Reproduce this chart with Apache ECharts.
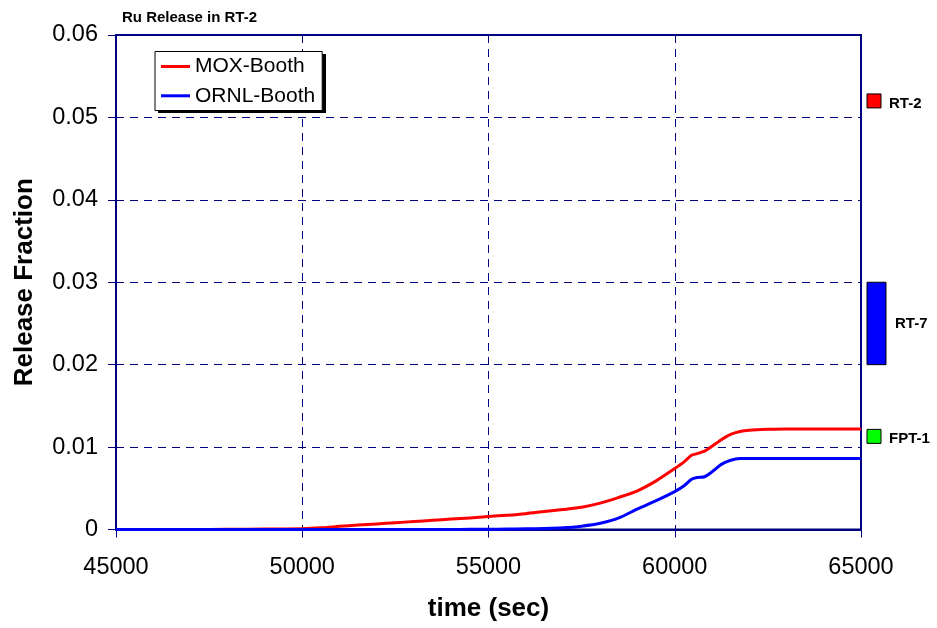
<!DOCTYPE html>
<html>
<head>
<meta charset="utf-8">
<script src="https://cdn.jsdelivr.net/npm/echarts@6/dist/echarts.min.js"></script>
<style>
  html, body { margin: 0; padding: 0; background: #fff; }
  #chart { width: 937px; height: 628px; }
</style>
</head>
<body>
<div id="chart"></div>
<script>
// Ru release fraction vs time for the two release models
const timeSec = [45000, 46000, 47000, 48000, 49000, 50000, 50500, 51000, 51500, 52000,
  52500, 53000, 53500, 54000, 54500, 55000, 55500, 56000, 56500, 57000,
  57500, 58000, 58500, 59000, 59500, 60000, 60250, 60450, 60600, 60800,
  61000, 61250, 61500, 61750, 62000, 62500, 63000, 64000, 65000];

const moxBooth = [0, 0, 0.00001, 0.00002, 0.00005, 0.0001, 0.0002, 0.00038, 0.00055, 0.00068,
  0.00082, 0.00097, 0.00112, 0.00127, 0.0014, 0.00158, 0.00173, 0.00192, 0.00218, 0.00242,
  0.0027, 0.0032, 0.0039, 0.0047, 0.0059, 0.0074, 0.0082, 0.009, 0.0092, 0.0095,
  0.0101, 0.0109, 0.01155, 0.0119, 0.01205, 0.01215, 0.0122, 0.0122, 0.0122];

const ornlBooth = [0, 0, 0, 0, 0, 0, 0, 0, 0, 0,
  0, 0, 0.00001, 0.00001, 0.00002, 0.00003, 0.00005, 0.00008, 0.00012, 0.0002,
  0.0004, 0.00075, 0.0014, 0.0025, 0.0035, 0.0046, 0.0053, 0.0061, 0.0063, 0.0064,
  0.007, 0.0079, 0.0084, 0.0086, 0.0086, 0.0086, 0.0086, 0.0086, 0.0086];

// Measured release fractions from other tests: name, low, high
const testNames = ['RT-2', 'RT-7', 'FPT-1'];
const testLow = [0.052, 0.02, 0.0113];
const testHigh = [0.052, 0.03, 0.0113];
const testColors = ['#ff0000', '#0000ff', '#00ff00'];

const xTicks = { min: 45000, max: 65000, step: 5000 };
const yTicks = { min: 0, max: 0.06, step: 0.01 };

const FONT = '"Liberation Sans", Arial, sans-serif';
const NAVY = '#000080';

const chart = echarts.init(document.getElementById('chart'), null, { renderer: 'canvas' });

const pair = (xs, ys) => xs.map((x, i) => [x, ys[i]]);

const testData = testNames.map((n, i) => [xTicks.max, testLow[i], testHigh[i], n, testColors[i]]);

chart.setOption({
  animation: false,
  backgroundColor: '#ffffff',
  title: {
    text: 'Ru Release in RT-2',
    left: 117,
    top: 5,
    textStyle: { fontFamily: FONT, fontSize: 15, fontWeight: 'bold', color: '#000' }
  },
  // drop shadow behind the legend box
  graphic: [
    {
      type: 'rect',
      left: 158,
      top: 54,
      shape: { width: 168, height: 59 },
      style: { fill: '#000000' },
      z: 3
    }
  ],
  legend: {
    orient: 'vertical',
    left: 155,
    top: 51.5,
    data: ['MOX-Booth', 'ORNL-Booth'],
    icon: 'rect',
    itemWidth: 29,
    itemHeight: 3,
    itemGap: 8.3,
    padding: [4.5, 7, 4.2, 6],
    backgroundColor: '#ffffff',
    borderColor: '#000000',
    borderWidth: 1,
    borderRadius: 0,
    z: 10,
    textStyle: { fontFamily: FONT, fontSize: 21, color: '#000', padding: [0, 0, 0, 0] }
  },
  grid: {
    left: 116,
    right: 76,
    top: 35,
    bottom: 98.5,
    show: true,
    borderColor: NAVY,
    borderWidth: 2,
    containLabel: false
  },
  xAxis: {
    type: 'value',
    min: xTicks.min,
    max: xTicks.max,
    interval: xTicks.step,
    name: 'time (sec)',
    nameLocation: 'middle',
    nameGap: 66,
    nameTextStyle: { fontFamily: FONT, fontSize: 26, fontWeight: 'bold', color: '#000' },
    axisLine: { show: true, lineStyle: { color: NAVY, width: 2 } },
    axisTick: { show: true, inside: false, length: 8, lineStyle: { color: NAVY, width: 1 } },
    axisLabel: {
      margin: 26,
      fontFamily: FONT,
      fontSize: 23.5,
      color: '#000',
      formatter: (v) => String(v)
    },
    splitLine: { show: true, lineStyle: { color: NAVY, width: 1, type: [8, 6] } }
  },
  yAxis: {
    type: 'value',
    min: yTicks.min,
    max: yTicks.max,
    interval: yTicks.step,
    name: 'Release Fraction',
    nameLocation: 'middle',
    nameGap: 78,
    nameTextStyle: { fontFamily: FONT, fontSize: 26, fontWeight: 'bold', color: '#000' },
    axisLine: { show: true, lineStyle: { color: NAVY, width: 2 } },
    axisTick: { show: true, inside: false, length: 8, lineStyle: { color: NAVY, width: 1 } },
    axisLabel: {
      margin: 18,
      fontFamily: FONT,
      fontSize: 23.5,
      color: '#000',
      formatter: (v) => String(Math.round(v * 100) / 100)
    },
    splitLine: { show: true, lineStyle: { color: NAVY, width: 1, type: [8, 6] } }
  },
  series: [
    {
      name: 'MOX-Booth',
      type: 'line',
      data: pair(timeSec, moxBooth),
      showSymbol: false,
      smooth: 0.25,
      color: '#ff0000',
      lineStyle: { color: '#ff0000', width: 3, join: 'round' },
      z: 3
    },
    {
      name: 'ORNL-Booth',
      type: 'line',
      data: pair(timeSec, ornlBooth),
      showSymbol: false,
      smooth: 0.25,
      color: '#0000ff',
      lineStyle: { color: '#0000ff', width: 3, join: 'round' },
      z: 4
    },
    {
      // Test data markers drawn just outside the right edge of the plot
      name: 'tests',
      type: 'custom',
      clip: false,
      silent: true,
      data: testData,
      encode: { x: 0, y: [1, 2] },
      renderItem: (params, api) => {
        const lo = api.value(1);
        const hi = api.value(2);
        const name = testData[params.dataIndex][3];
        const color = testData[params.dataIndex][4];
        const pTop = api.coord([api.value(0), hi]);
        const pBot = api.coord([api.value(0), lo]);
        const x0 = pTop[0] + 6;
        let rect, labelX, labelY;
        if (hi === lo) {
          rect = { x: x0, y: pTop[1] - 7, width: 14, height: 14 };
          labelX = x0 + 22;
          labelY = pTop[1] + 2.5;
        } else {
          rect = { x: x0, y: pTop[1], width: 19, height: pBot[1] - pTop[1] };
          labelX = x0 + 28;
          labelY = (pTop[1] + pBot[1]) / 2;
        }
        return {
          type: 'group',
          children: [
            {
              type: 'rect',
              shape: rect,
              style: { fill: color, stroke: '#000', lineWidth: 1 }
            },
            {
              type: 'text',
              style: {
                x: labelX,
                y: labelY,
                text: name,
                fill: '#000',
                font: 'bold 15px ' + FONT,
                textAlign: 'left',
                textVerticalAlign: 'middle'
              }
            }
          ]
        };
      },
      z: 5
    }
  ]
});
</script>
</body>
</html>
